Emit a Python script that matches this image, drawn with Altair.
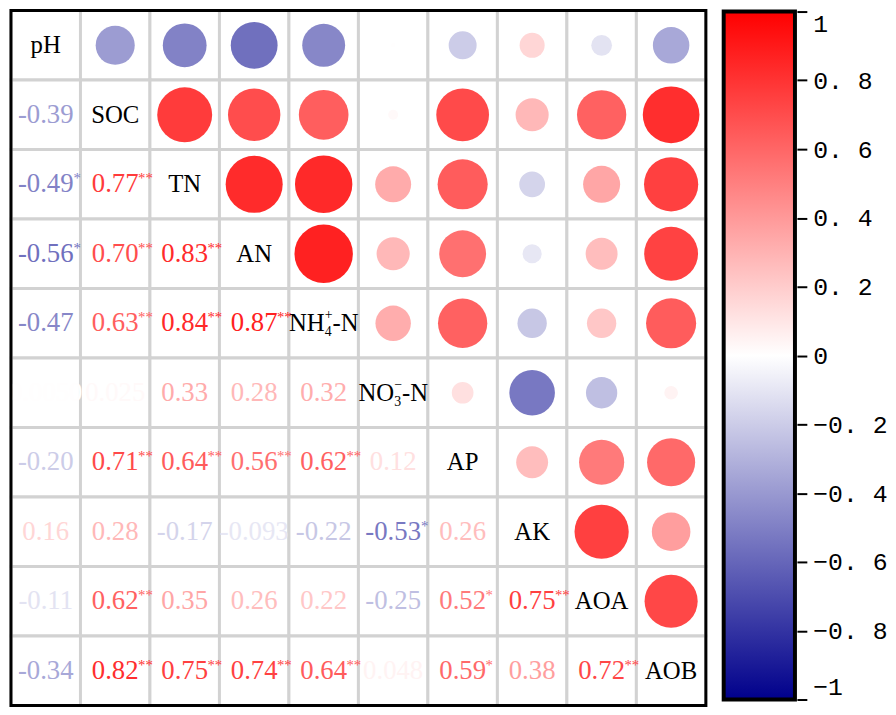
import altair as alt
import pandas as pd

names = ["pH", "SOC", "TN", "AN", "NH4+-N", "NO3--N", "AP", "AK", "AOA", "AOB"]

r_rows = [
    [],
    [-0.39],
    [-0.49, 0.77],
    [-0.56, 0.70, 0.83],
    [-0.47, 0.63, 0.84, 0.87],
    [0.0050, 0.025, 0.33, 0.28, 0.32],
    [-0.20, 0.71, 0.64, 0.56, 0.62, 0.12],
    [0.16, 0.28, -0.17, -0.093, -0.22, -0.53, 0.26],
    [-0.11, 0.62, 0.35, 0.26, 0.22, -0.25, 0.52, 0.75],
    [-0.34, 0.82, 0.75, 0.74, 0.64, 0.048, 0.59, 0.38, 0.72],
]
sig_rows = [
    [],
    [""],
    ["*", "**"],
    ["*", "**", "**"],
    ["", "**", "**", "**"],
    ["", "", "", "", ""],
    ["", "**", "**", "**", "**", ""],
    ["", "", "", "", "", "*", ""],
    ["", "**", "", "", "", "", "*", "**"],
    ["", "**", "**", "**", "**", "", "*", "", "**"],
]
colorbar_ticks = [-1, -0.8, -0.6, -0.4, -0.2, 0, 0.2, 0.4, 0.6, 0.8, 1]

special_rows = ["NH4+-N", "NO3--N"]
special_main = ["NH", "NO"]
special_sub = ["4", "3"]
special_sup = ["+", "\u2212"]
special_tail = ["-N", "-N"]

cells = []
for i, row in enumerate(r_rows):
    for j, v in enumerate(row):
        cells.append(dict(row=names[i], col=names[j], r=v, ar=abs(v),
                          label="{:#.2g}".format(v), sig=sig_rows[i][j]))
lower = pd.DataFrame(cells)
upper = lower.rename(columns={"row": "col", "col": "row"})
grid = pd.DataFrame([(a, b) for a in names for b in names], columns=["row", "col"])
diag_simple = pd.DataFrame({"row": [n for n in names if n not in special_rows],
                            "col": [n for n in names if n not in special_rows]})
spec = pd.DataFrame({"row": special_rows, "col": special_rows, "main": special_main,
                     "sub": special_sub, "sup": special_sup, "tail": special_tail})

SERIF = "Liberation Serif"
W = 702

x = alt.X("col:N", sort=names, scale=alt.Scale(paddingInner=0, paddingOuter=0), axis=None)
y = alt.Y("row:N", sort=names, scale=alt.Scale(paddingInner=0, paddingOuter=0), axis=None)
cscale = alt.Scale(type="linear", domain=[-1, 0, 1], range=["#00008B", "#FFFFFF", "#FF0000"],
                   interpolate="rgb")
col = alt.Color("r:Q", scale=cscale, legend=None)

grid_layer = alt.Chart(grid).mark_rect(fill="white", stroke="#D2D2D2", strokeWidth=3).encode(x=x, y=y)
circle_layer = alt.Chart(upper).mark_circle(opacity=1).encode(
    x=x, y=y,
    size=alt.Size("ar:Q", scale=alt.Scale(domain=[0, 1], range=[0, 4000], zero=True), legend=None),
    color=col)
num_layer = alt.Chart(lower).mark_text(font=SERIF, fontSize=27).encode(x=x, y=y, text="label:N", color=col)
star_pos = alt.Chart(lower).transform_filter("datum.sig != '' && datum.r >= 0").mark_text(
    font=SERIF, fontSize=15, align="left", dx=23, dy=-6).encode(x=x, y=y, text="sig:N", color=col)
star_neg = alt.Chart(lower).transform_filter("datum.sig != '' && datum.r < 0").mark_text(
    font=SERIF, fontSize=15, align="left", dx=28, dy=-6).encode(x=x, y=y, text="sig:N", color=col)
diag_layer = alt.Chart(diag_simple).mark_text(font=SERIF, fontSize=25, color="black").encode(
    x=x, y=y, text="col:N")
sp_main = alt.Chart(spec).mark_text(font=SERIF, fontSize=25, color="black", align="right", dx=1).encode(
    x=x, y=y, text="main:N")
sp_sub = alt.Chart(spec).mark_text(font=SERIF, fontSize=14, color="black", align="left", dx=1, dy=9).encode(
    x=x, y=y, text="sub:N")
sp_sup = alt.Chart(spec).mark_text(font=SERIF, fontSize=14, color="black", align="left", dx=1, dy=-8).encode(
    x=x, y=y, text="sup:N")
sp_tail = alt.Chart(spec).mark_text(font=SERIF, fontSize=25, color="black", align="left", dx=9).encode(
    x=x, y=y, text="tail:N")
border = alt.Chart(alt.Data(values=[{}])).mark_rect(fillOpacity=0, stroke="black", strokeWidth=3).encode(
    x=alt.value(0), x2=alt.value(W), y=alt.value(0), y2=alt.value(W))

matrix = alt.layer(grid_layer, circle_layer, num_layer, star_pos, star_neg, diag_layer,
                   sp_main, sp_sub, sp_sup, sp_tail, border).properties(width=W, height=W)

grad = alt.LinearGradient(
    gradient="linear",
    stops=[alt.GradientStop(color="#00008B", offset=0),
           alt.GradientStop(color="#FFFFFF", offset=0.5),
           alt.GradientStop(color="#FF0000", offset=1)],
    x1=0, x2=0, y1=1, y2=0)

cb = alt.Chart(pd.DataFrame({"lo": [colorbar_ticks[0]], "hi": [colorbar_ticks[-1]]})).mark_rect(
    fill=grad, stroke="black", strokeWidth=4).encode(
    x=alt.value(0), x2=alt.value(72),
    y=alt.Y("lo:Q", scale=alt.Scale(domain=[-1, 1], nice=False, zero=False, range=[696, 1]),
            axis=alt.Axis(orient="right", values=colorbar_ticks, title=None, domain=False, grid=False,
                          tickSize=10, tickWidth=2, tickColor="black", offset=2,
                          labelFont="Liberation Mono", labelFontSize=25, labelColor="black",
                          labelPadding=6, labelFlush=True,
                          labelExpr="replace(replace(format(datum.value, '.1~f'), '.', '. '), '-', '\u2212')")),
    y2="hi:Q").properties(width=72, height=W)

chart = alt.hconcat(matrix, cb, spacing=14).resolve_scale(y="independent", color="independent").properties(
    padding={"top": -3, "left": 0, "right": 0, "bottom": 0}).configure_view(stroke=None)

chart.save("out.html", embed_options={"renderer": "svg", "actions": False})
